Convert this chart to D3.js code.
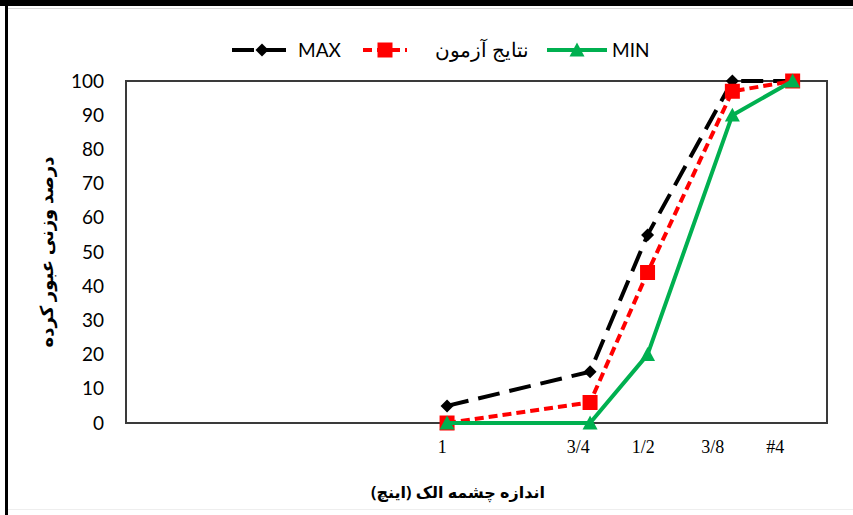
<!DOCTYPE html>
<html>
<head>
<meta charset="utf-8">
<script src="https://cdn.jsdelivr.net/npm/d3@7"></script>
<style>
  html, body { margin: 0; padding: 0; background: #fff; }
  svg { display: block; }
</style>
</head>
<body>
<svg id="chart" width="853" height="515"></svg>
<script>
// Sieve sizes and their positions along the horizontal axis (0–100 units)
const sieves = ["1", "3/4", "1/2", "3/8", "#4"];
const sievePos = [45.8, 66.2, 74.4, 86.5, 95.1];
const sieveLabelPos = [45.1, 64.5, 73.8, 83.7, 92.6];

// Percent passing for each curve
const maxValues = [5, 15, 55, 100, 100];
const testValues = [0, 6, 44, 97, 100];
const minValues = [0, 0, 20, 90, 100];

const yTicks = [0, 10, 20, 30, 40, 50, 60, 70, 80, 90, 100];

const seriesNames = ["MAX", "نتایج آزمون", "MIN"];
const yTitle = "درصد وزنی عبور کرده";
const xTitle = "اندازه چشمه الک (اینچ)";

const svg = d3.select("#chart");
const W = 853, H = 515;
const plot = { left: 126, right: 827, top: 81, bottom: 423 };

// Outer frame
svg.append("rect").attr("x", 0).attr("y", 0).attr("width", W).attr("height", 6).attr("fill", "#000");
svg.append("rect").attr("x", 5).attr("y", 0).attr("width", 3).attr("height", H).attr("fill", "#000");
svg.append("line").attr("x1", 8).attr("x2", W).attr("y1", 8.5).attr("y2", 8.5).attr("stroke", "#d8d8d8").attr("stroke-width", 1);
svg.append("line").attr("x1", 8).attr("x2", W).attr("y1", 509.5).attr("y2", 509.5).attr("stroke", "#eeeeee").attr("stroke-width", 1);

const x = d3.scaleLinear().domain([0, 100]).range([plot.left, plot.right]);
const y = d3.scaleLinear().domain([0, 100]).range([plot.bottom, plot.top]);

// Y axis tick labels (no tick marks or domain line)
const yAxis = d3.axisLeft(y).tickValues(yTicks).tickSize(0).tickPadding(22);
const gy = svg.append("g").attr("transform", `translate(${plot.left},0)`).call(yAxis);
gy.select(".domain").remove();
gy.selectAll("text")
  .attr("font-family", "Lato, 'Open Sans', sans-serif")
  .attr("font-size", 19)
  .attr("fill", "#000");

// Plot border
svg.append("rect")
  .attr("x", plot.left).attr("y", plot.top)
  .attr("width", plot.right - plot.left).attr("height", plot.bottom - plot.top)
  .attr("fill", "none").attr("stroke", "#3a3a3a").attr("stroke-width", 2);

// Sieve labels under the axis
svg.append("g").selectAll("text")
  .data(sieves)
  .join("text")
  .attr("x", (d, i) => x(sieveLabelPos[i]))
  .attr("y", 453)
  .attr("text-anchor", "middle")
  .attr("font-family", "'Liberation Serif', 'Times New Roman', serif")
  .attr("font-size", 18)
  .attr("fill", "#000")
  .text(d => d);

// Axis titles
svg.append("text")
  .attr("x", 458).attr("y", 498)
  .attr("text-anchor", "middle")
  .attr("direction", "rtl")
  .attr("font-family", "'Noto Sans', 'DejaVu Sans', sans-serif")
  .attr("font-weight", "bold")
  .attr("font-size", 16)
  .attr("fill", "#000")
  .text(xTitle);

svg.append("text")
  .attr("transform", `translate(53,${(plot.top + plot.bottom) / 2}) rotate(-90)`)
  .attr("text-anchor", "middle")
  .attr("direction", "rtl")
  .attr("font-family", "'Noto Sans', 'DejaVu Sans', sans-serif")
  .attr("font-weight", "bold")
  .attr("font-size", 18)
  .attr("fill", "#000")
  .text(yTitle);

const series = [
  { name: seriesNames[0], values: maxValues, color: "#000000", width: 4, dash: "22,10", marker: "diamond", size: 13 },
  { name: seriesNames[1], values: testValues, color: "#ff0000", width: 4, dash: "9,5", marker: "square", size: 15 },
  { name: seriesNames[2], values: minValues, color: "#00b050", width: 4, dash: null, marker: "triangle", size: 15 }
];

function markerPath(type, s) {
  const h = s / 2;
  if (type === "diamond") return `M0,${-h}L${h},0L0,${h}L${-h},0Z`;
  if (type === "square") return `M${-h},${-h}H${h}V${h}H${-h}Z`;
  return `M0,${-h}L${h},${h * 0.85}L${-h},${h * 0.85}Z`;
}

const line = d3.line().x(d => x(d.px)).y(d => y(d.v));

series.forEach(s => {
  const pts = s.values.map((v, i) => ({ px: sievePos[i], v }));
  const g = svg.append("g");
  g.append("path")
    .datum(pts)
    .attr("d", line)
    .attr("fill", "none")
    .attr("stroke", s.color)
    .attr("stroke-width", s.width)
    .attr("stroke-dasharray", s.dash)
    .attr("stroke-linejoin", "round");
  g.selectAll("path.m")
    .data(pts)
    .join("path")
    .attr("class", "m")
    .attr("transform", d => `translate(${x(d.px)},${y(d.v)})`)
    .attr("d", markerPath(s.marker, s.size))
    .attr("fill", s.color);
});

// Legend
const legendItems = [
  { s: series[0], x1: 232, x2: 292, tx: 298, size: 19 },
  { s: series[1], x1: 363, x2: 407, tx: 435, size: 20 },
  { s: series[2], x1: 547, x2: 607, tx: 612, size: 19 }
];
const ly = 50;
const lg = svg.append("g");
legendItems.forEach(it => {
  lg.append("line")
    .attr("x1", it.x1).attr("x2", it.x2).attr("y1", ly).attr("y2", ly)
    .attr("stroke", it.s.color).attr("stroke-width", it.s.width)
    .attr("stroke-dasharray", it.s.dash);
  lg.append("path")
    .attr("transform", `translate(${(it.x1 + it.x2) / 2},${ly})`)
    .attr("d", markerPath(it.s.marker, it.s.size))
    .attr("fill", it.s.color);
  lg.append("text")
    .attr("x", it.tx).attr("y", ly + 7)
    .attr("font-family", "Lato, 'Open Sans', sans-serif")
    .attr("font-size", it.size)
    .attr("fill", "#000")
    .text(it.s.name);
});
</script>
</body>
</html>
